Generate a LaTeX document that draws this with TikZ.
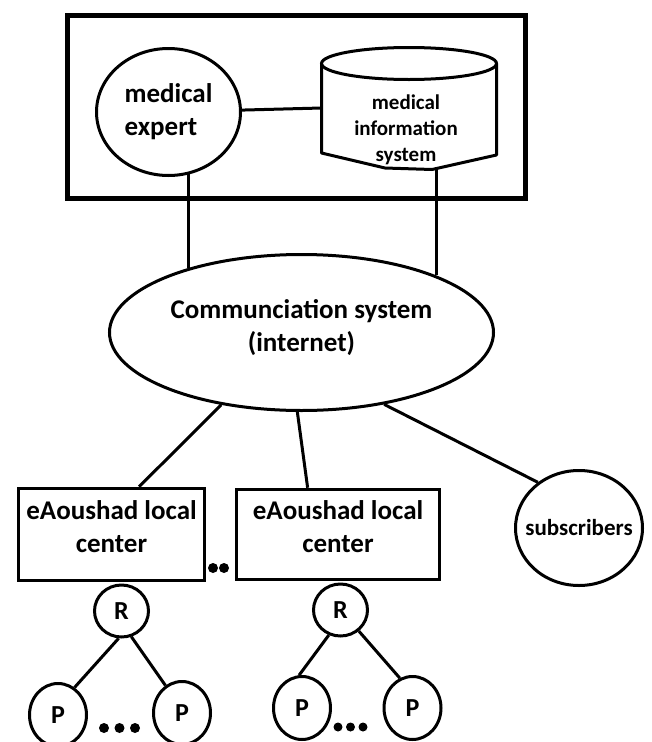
\documentclass[tikz,border=0pt]{standalone}
\usepackage{fontspec}
\setmainfont{Carlito}
\usetikzlibrary{shapes.geometric}
\tikzstyle{round_node} = [
    ellipse,
    draw=black,
    line width=3pt,
    inner sep=0pt,
    align=center,
    font=\bfseries\fontsize{27}{33}\selectfont
]
\tikzstyle{center_node} = [
    rectangle,
    draw=black,
    line width=3.5pt,
    inner sep=2pt, % text nearly fills the box
    align=center,
    minimum height=92pt,
    font=\bfseries\fontsize{27}{33}\selectfont
]
\tikzstyle{root_node} = [
    ellipse,
    draw=black,
    line width=3pt,
    inner sep=0pt,
    minimum width=54pt,
    minimum height=52pt,
    font=\bfseries\fontsize{26}{30}\selectfont
]
\tikzstyle{leaf_node} = [
    ellipse,
    draw=black,
    line width=3pt,
    inner sep=0pt,
    minimum width=57pt,
    minimum height=63pt,
    font=\bfseries\fontsize{26}{30}\selectfont
]
\tikzstyle{link} = [
    line width=3pt
]

\begin{document}
\begin{tikzpicture}[x=1pt, y=-1pt]
\useasboundingbox (0,0) rectangle (652,742);

% expert side
\draw [line width=4.5pt] (67.5,15.5) rectangle (525.5,198.5);
\node [round_node, align=left, minimum width=144pt, minimum height=127pt] (expert) at (168.5,112) {medical\\expert};

\draw [line width=3pt] (409,63.5) ellipse [x radius=87.5, y radius=16];
\draw [line width=3pt, line join=round] (321.5,63.5) -- (321.5,153) -- (385,168) -- (432,169.5) -- (496.5,155) -- (496.5,63.5);
\node [font=\bfseries\fontsize{21}{26}\selectfont, align=center] (mis) at (406,130) {medical\\information\\system};
\coordinate (mis_w) at (321.5,108);
\coordinate (mis_s) at (436,169);

% network
\node [round_node, minimum width=384pt, minimum height=156pt] (comm) at (301.5,332.5) {Communciation system\\(internet)\\[-19pt]};

% local side
\node [center_node, minimum width=186pt] (center_a) at (111.5,534.5) {eAoushad local\\center\\[-17pt]};
\node [center_node, minimum width=203pt, minimum height=90pt] (center_b) at (338,534.5) {eAoushad local\\center\\[-17pt]};
\node [round_node, minimum width=127pt, minimum height=115pt, font=\bfseries\fontsize{23}{28}\selectfont] (subs) at (579,528) {\makebox[0pt]{subscribers}};

\node [root_node] (r_a) at (121.5,611) {R};
\node [leaf_node] (p_a1) at (58,715) {P};
\node [leaf_node] (p_a2) at (182,713) {P};
\node [root_node] (r_b) at (340.5,610) {R};
\node [leaf_node] (p_b1) at (302,708) {P};
\node [leaf_node] (p_b2) at (412.5,708) {P};

\draw [link] (expert) -- (mis_w);
\draw [link] (expert.-72) -- (expert.-72 |- comm.150);
\draw [link] (mis_s) -- (mis_s |- comm.23);
\draw [link] (comm.222) -- (center_a.60);
\draw [link] (comm.267) -- (center_b.123);
\draw [link] (comm.319) -- (subs.132);
\draw [link] (r_a.264) -- (p_a1.59);
\draw [link] (r_a.291) -- (p_a2.121);
\draw [link] (r_b.245) -- (p_b1.95);
\draw [link] (r_b.311) -- (p_b2.113);

\foreach \x in {104,119.5,135} \fill (\x,728) circle (5);
\foreach \x in {338,350.5,363} \fill (\x,727) circle (4.5);
\foreach \x in {213,224} \fill (\x,568) circle (5);
\end{tikzpicture}
\end{document}
